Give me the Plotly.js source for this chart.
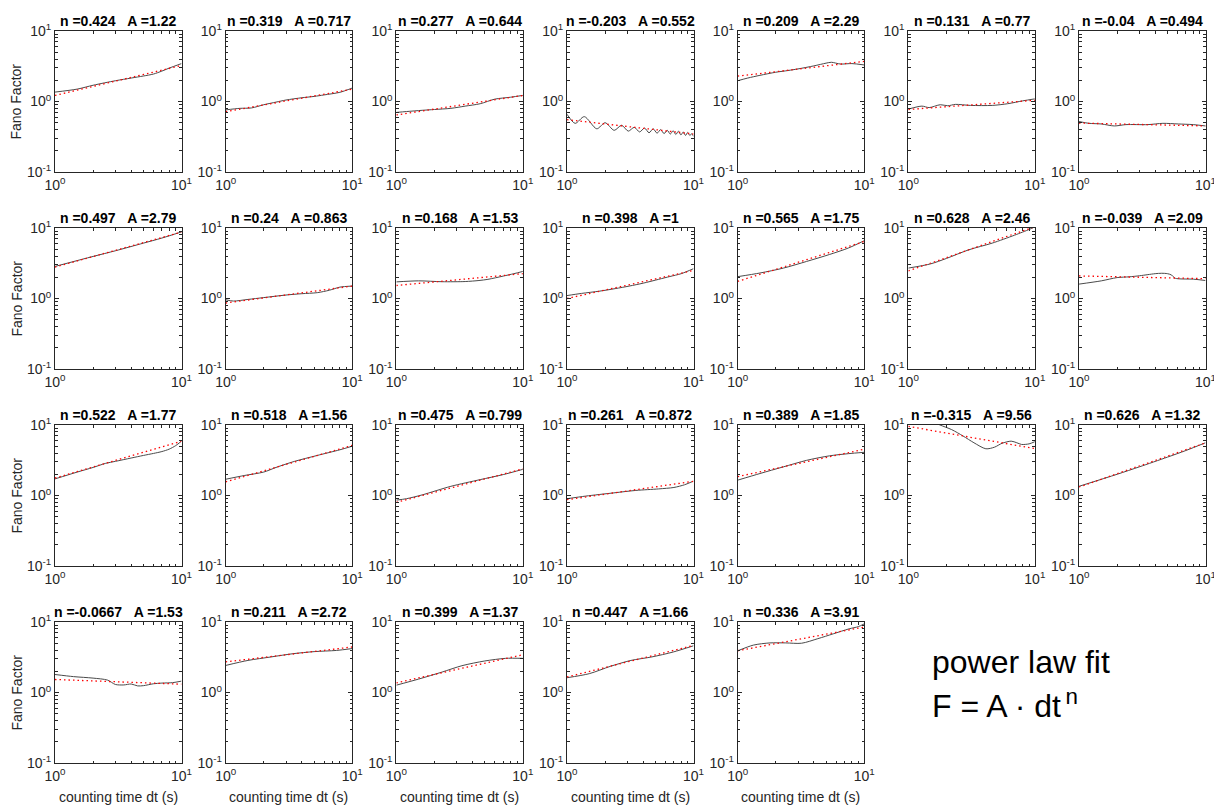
<!DOCTYPE html>
<html>
<head>
<meta charset="utf-8">
<script src="https://cdn.plot.ly/plotly-3.0.1.min.js"></script>
<style>
  html, body { margin: 0; padding: 0; background: #fff; }
  #chart { width: 1214px; height: 806px; }
</style>
</head>
<body>
<div id="chart"></div>
<script>
// ---------- data ----------
const nLabels = ['0.424','0.319','0.277','-0.203','0.209','0.131','-0.04',
                 '0.497','0.24','0.168','0.398','0.565','0.628','-0.039',
                 '0.522','0.518','0.475','0.261','0.389','-0.315','0.626',
                 '-0.0667','0.211','0.399','0.447','0.336'];
const aLabels = ['1.22','0.717','0.644','0.552','2.29','0.77','0.494',
                 '2.79','0.863','1.53','1','1.75','2.46','2.09',
                 '1.77','1.56','0.799','0.872','1.85','9.56','1.32',
                 '1.53','2.72','1.37','1.66','3.91'];
// red dotted power-law fit: value at dt = 1 and at dt = 10
const fitDt   = [1, 10];
const fitAt1  = [1.22,0.717,0.644,0.552,2.29,0.77,0.494,
                 2.79,0.863,1.53,1,1.75,2.46,2.09,
                 1.77,1.56,0.799,0.872,1.85,9.56,1.32,
                 1.53,2.72,1.37,1.66,3.91];
const fitAt10 = [3.24,1.494,1.218,0.346,3.705,1.041,0.4505,
                 8.76,1.50,2.252,2.50,6.43,10.45,1.910,
                 5.89,5.14,2.385,1.59,4.53,4.63,5.58,
                 1.312,4.42,3.43,4.65,8.48];

// measured Fano factor curves (black lines)
const dt01 = [1, 1.5, 2, 3, 4, 5, 6, 7, 8, 10];
const ff01 = [1.36, 1.5, 1.7, 1.97, 2.15, 2.3, 2.45, 2.7, 2.98, 3.45];
const dt02 = [1, 1.3, 1.6, 2, 2.5, 3, 4, 5, 6, 8, 10];
const ff02 = [0.76, 0.8, 0.81, 0.9, 0.98, 1.05, 1.13, 1.18, 1.24, 1.35, 1.55];
const dt03 = [1, 1.2, 1.6, 2, 2.7, 3.5, 4.6, 6, 8, 10];
const ff03 = [0.7, 0.72, 0.75, 0.77, 0.8, 0.86, 0.93, 1.08, 1.15, 1.22];
const dt04 = [1, 1.16, 1.37, 1.72, 2.0, 2.36, 2.7, 3.05, 3.4, 3.75, 4.1, 4.45, 4.8, 5.15,
              5.5, 5.85, 6.2, 6.55, 6.9, 7.25, 7.6, 7.95, 8.3, 8.65, 9.0, 9.35, 9.7, 10];
const ff04 = [0.66, 0.49, 0.61, 0.41, 0.50, 0.39, 0.46, 0.38, 0.43, 0.37, 0.42, 0.36, 0.41, 0.355,
              0.40, 0.35, 0.39, 0.345, 0.385, 0.34, 0.38, 0.335, 0.37, 0.33, 0.365, 0.33, 0.35, 0.32];
const dt05 = [1, 1.2, 1.5, 2, 2.5, 3, 4, 5, 5.5, 6.5, 8, 10];
const ff05 = [1.97, 2.15, 2.35, 2.6, 2.75, 2.9, 3.2, 3.5, 3.6, 3.4, 3.45, 3.3];
const dt06 = [1, 1.28, 1.46, 1.79, 2.05, 2.35, 3.1, 4.6, 6.1, 8, 10];
const ff06 = [0.78, 0.86, 0.82, 0.9, 0.87, 0.91, 0.88, 0.88, 0.93, 1.02, 1.09];
const dt07 = [1, 1.2, 1.5, 1.9, 2.35, 3.5, 4.6, 6.1, 8, 10];
const ff07 = [0.52, 0.49, 0.48, 0.45, 0.47, 0.47, 0.49, 0.48, 0.47, 0.45];
const dt08 = [1, 2, 3, 5, 7, 10];
const ff08 = [2.85, 3.95, 4.75, 6.1, 7.2, 8.8];
const dt09 = [1, 1.15, 1.5, 2, 3, 4, 5.3, 6.6, 8, 10];
const ff09 = [0.96, 0.92, 0.97, 1.03, 1.12, 1.17, 1.21, 1.31, 1.45, 1.5];
const dt10 = [1, 1.5, 2.3, 3.5, 4.5, 5.3, 7, 8.5, 10];
const ff10 = [1.72, 1.78, 1.73, 1.74, 1.8, 1.87, 2.08, 2.25, 2.42];
const dt11 = [1, 1.3, 1.8, 2.4, 3.1, 4, 5.3, 6.5, 8, 10];
const ff11 = [1.1, 1.18, 1.27, 1.38, 1.5, 1.65, 1.87, 2.05, 2.25, 2.65];
const dt12 = [1, 1.5, 2.3, 3.5, 5.3, 7.5, 10];
const ff12 = [2.04, 2.3, 2.7, 3.35, 4.2, 5.2, 6.6];
const dt13 = [1, 1.5, 2, 3, 4.6, 6.9, 9.1, 10];
const ff13 = [2.7, 3.1, 3.7, 4.9, 6.1, 7.9, 9.6, 10.4];
const dt14 = [1, 1.5, 2, 2.5, 3, 3.5, 4, 4.5, 5, 5.4, 5.7, 6.2, 8, 10];
const ff14 = [1.6, 1.78, 1.98, 2.03, 2.1, 2.18, 2.25, 2.28, 2.25, 2.15, 1.95, 1.9, 1.88, 1.8];
const dt15 = [1, 1.5, 2, 2.5, 3, 4, 5, 6, 7, 8, 9, 10];
const ff15 = [1.72, 2.15, 2.5, 2.85, 3.05, 3.4, 3.7, 3.95, 4.2, 4.55, 5.1, 5.9];
const dt16 = [1, 1.4, 2, 2.5, 3.5, 5.3, 8, 10];
const ff16 = [1.7, 1.92, 2.15, 2.5, 3.05, 3.7, 4.45, 5.0];
const dt17 = [1, 1.2, 1.6, 2.7, 4.6, 7, 10];
const ff17 = [0.86, 0.9, 1.02, 1.35, 1.68, 1.98, 2.35];
const dt18 = [1, 1.4, 2.35, 3.5, 5.3, 7, 8.5, 10];
const ff18 = [0.9, 0.98, 1.09, 1.18, 1.24, 1.3, 1.42, 1.6];
const dt19 = [1, 1.5, 2.3, 3.5, 5.3, 7.5, 10];
const ff19 = [1.65, 2.05, 2.55, 3.15, 3.65, 3.92, 4.1];
const dt20 = [1, 1.5, 1.78, 2.2, 2.7, 3.3, 4.1, 4.8, 5.5, 6.5, 7.2, 7.85, 9, 10];
const ff20 = [14, 11.5, 10, 8.6, 7.0, 5.6, 4.6, 4.85, 5.5, 5.9, 5.6, 5.3, 5.4, 5.8];
const dt21 = [1, 2, 3, 5, 7, 10];
const ff21 = [1.35, 2.0, 2.55, 3.5, 4.35, 5.6];
const dt22 = [1, 1.4, 2, 2.6, 3, 3.5, 4, 4.5, 5, 6, 7, 8.5, 10];
const ff22 = [1.8, 1.68, 1.6, 1.5, 1.3, 1.28, 1.32, 1.24, 1.25, 1.33, 1.36, 1.38, 1.45];
const dt23 = [1, 1.5, 2.3, 3.4, 5, 7.5, 10];
const ff23 = [2.42, 2.85, 3.2, 3.55, 3.8, 3.95, 4.2];
const dt24 = [1, 1.5, 2.3, 3.3, 5, 7.3, 10];
const ff24 = [1.27, 1.55, 1.95, 2.4, 2.8, 3.05, 3.05];
const dt25 = [1, 1.5, 2.2, 3.2, 4.7, 6.9, 10];
const ff25 = [1.62, 1.85, 2.35, 2.85, 3.2, 3.75, 4.6];
const dt26 = [1, 1.33, 1.8, 2.4, 3.2, 4.3, 5.7, 7.6, 9, 10];
const ff26 = [3.9, 4.7, 5.05, 5.05, 5.0, 5.8, 6.8, 8.0, 8.6, 9.4];

const xTickVals = [1, 10];
const xTickText = ['10<sup>0</sup>', '10<sup>1</sup>'];
const yTickVals = [0.1, 1, 10];
const yTickText = ['10<sup>-1</sup>', '10<sup>0</sup>', '10<sup>1</sup>'];
const xMinor = [2, 3, 4, 5, 6, 7, 8, 9];
const yMinor = [0.2, 0.3, 0.4, 0.5, 0.6, 0.7, 0.8, 0.9, 2, 3, 4, 5, 6, 7, 8, 9];

const curves = [
  [dt01, ff01], [dt02, ff02], [dt03, ff03], [dt04, ff04], [dt05, ff05], [dt06, ff06], [dt07, ff07],
  [dt08, ff08], [dt09, ff09], [dt10, ff10], [dt11, ff11], [dt12, ff12], [dt13, ff13], [dt14, ff14],
  [dt15, ff15], [dt16, ff16], [dt17, ff17], [dt18, ff18], [dt19, ff19], [dt20, ff20], [dt21, ff21],
  [dt22, ff22], [dt23, ff23], [dt24, ff24], [dt25, ff25], [dt26, ff26]
];

// ---------- layout geometry ----------
const W = 1214, H = 806;
const colLeft0 = 55, colStep = 170.67, panelW = 126.5;
const rowTop0 = 31, rowStep = 197, panelH = 141;
const FONT = 'Liberation Sans, Arial, Helvetica, sans-serif';
const AX = '#262626';

const traces = [];
const layout = {
  width: W, height: H,
  margin: {l: 0, r: 0, t: 0, b: 0},
  paper_bgcolor: '#fff', plot_bgcolor: '#fff',
  showlegend: false,
  annotations: [],
  font: {family: FONT, color: AX}
};

curves.forEach((c, i) => {
  const k = i + 1;
  const row = Math.floor(i / 7), col = i % 7;
  const left = colLeft0 + col * colStep, right = left + panelW;
  const top = rowTop0 + row * rowStep, bottom = top + panelH;
  const xa = k === 1 ? 'x' : 'x' + k;
  const ya = k === 1 ? 'y' : 'y' + k;

  traces.push({
    x: c[0], y: c[1], xaxis: xa, yaxis: ya, type: 'scatter', mode: 'lines',
    line: {color: '#4a4a4a', width: 1, shape: 'spline', smoothing: 0.8},
    hoverinfo: 'skip'
  });
  traces.push({
    x: fitDt, y: [fitAt1[i], fitAt10[i]], xaxis: xa, yaxis: ya, type: 'scatter', mode: 'lines',
    line: {color: '#ff0000', width: 1.3, dash: '1.5px,3px'},
    hoverinfo: 'skip'
  });

  layout[k === 1 ? 'xaxis' : 'xaxis' + k] = {
    type: 'log', range: [0, 1], domain: [left / W, right / W], anchor: ya,
    tickmode: 'array', tickvals: xTickVals, ticktext: xTickText,
    ticks: 'inside', ticklen: 4, tickwidth: 1, tickcolor: AX,
    showline: true, linecolor: AX, linewidth: 1, mirror: 'allticks',
    showgrid: false, zeroline: false, fixedrange: true,
    ticklabeloverflow: 'allow',
    tickfont: {family: FONT, size: 14, color: AX},
    minor: {tickmode: 'array', tickvals: xMinor, ticks: 'inside', ticklen: 2.5, tickwidth: 1, tickcolor: AX, showgrid: false}
  };
  layout[k === 1 ? 'yaxis' : 'yaxis' + k] = {
    type: 'log', range: [-1, 1], domain: [1 - bottom / H, 1 - top / H], anchor: xa,
    tickmode: 'array', tickvals: yTickVals, ticktext: yTickText,
    ticks: 'inside', ticklen: 4, tickwidth: 1, tickcolor: AX,
    showline: true, linecolor: AX, linewidth: 1, mirror: 'allticks',
    showgrid: false, zeroline: false, fixedrange: true,
    ticklabeloverflow: 'allow',
    tickfont: {family: FONT, size: 14, color: AX},
    minor: {tickmode: 'array', tickvals: yMinor, ticks: 'inside', ticklen: 2.5, tickwidth: 1, tickcolor: AX, showgrid: false}
  };

  layout.annotations.push({
    xref: 'paper', yref: 'paper', x: (left + right) / 2 / W, y: 1 - top / H,
    xanchor: 'center', yanchor: 'bottom', yshift: 0, showarrow: false,
    text: '<b>n =' + nLabels[i] + '\u00a0\u00a0\u00a0A =' + aLabels[i] + '</b>',
    font: {family: FONT, size: 14, color: '#000'}
  });

  if (col === 0) {
    layout.annotations.push({
      xref: 'paper', yref: 'paper', x: 16 / W, y: 1 - (top + bottom) / 2 / H,
      xanchor: 'center', yanchor: 'middle', textangle: -90, showarrow: false,
      text: 'Fano Factor', font: {family: FONT, size: 14, color: AX}
    });
  }
  if (row === 3) {
    layout.annotations.push({
      xref: 'paper', yref: 'paper', x: (left + right) / 2 / W, y: 1 - 797 / H,
      xanchor: 'center', yanchor: 'middle', showarrow: false,
      text: 'counting time dt (s)', font: {family: FONT, size: 14, color: AX}
    });
  }
});

layout.annotations.push({
  xref: 'paper', yref: 'paper', x: 930 / W, y: 1 - 662 / H,
  xanchor: 'left', yanchor: 'middle', showarrow: false,
  text: 'power law fit', font: {family: FONT, size: 32, color: '#000'}
});
layout.annotations.push({
  xref: 'paper', yref: 'paper', x: 930 / W, y: 1 - 704 / H,
  xanchor: 'left', yanchor: 'middle', showarrow: false,
  text: 'F = A \u00b7 dt<sup>\u2009n</sup>', font: {family: FONT, size: 32, color: '#000'}
});

Plotly.newPlot('chart', traces, layout, {staticPlot: true, displayModeBar: false});
</script>
</body>
</html>
